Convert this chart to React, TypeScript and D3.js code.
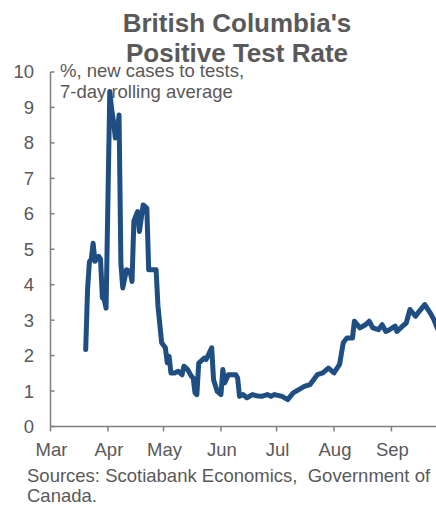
import React from "react";
import * as d3 from "d3";

// 7-day rolling positive test rate, British Columbia (% of tests)
const dates: string[] = [
  "2020-03-20", "2020-03-21", "2020-03-22", "2020-03-23", "2020-03-24", "2020-03-25",
  "2020-03-27", "2020-03-28", "2020-03-29", "2020-03-30", "2020-03-31",
  "2020-04-02", "2020-04-03", "2020-04-04", "2020-04-05", "2020-04-06", "2020-04-07",
  "2020-04-08", "2020-04-09", "2020-04-11", "2020-04-13", "2020-04-14", "2020-04-15",
  "2020-04-17", "2020-04-18", "2020-04-20", "2020-04-22", "2020-04-23", "2020-04-25",
  "2020-04-27", "2020-04-28", "2020-04-30", "2020-05-02", "2020-05-03", "2020-05-04",
  "2020-05-05", "2020-05-07", "2020-05-09", "2020-05-11", "2020-05-12", "2020-05-14",
  "2020-05-16", "2020-05-17", "2020-05-18", "2020-05-19", "2020-05-20", "2020-05-23",
  "2020-05-24", "2020-05-27", "2020-05-28", "2020-05-30", "2020-06-01", "2020-06-02",
  "2020-06-03", "2020-06-05", "2020-06-09", "2020-06-10", "2020-06-11", "2020-06-13",
  "2020-06-15", "2020-06-18", "2020-06-20", "2020-06-23", "2020-06-26", "2020-06-28",
  "2020-06-30", "2020-07-04", "2020-07-07", "2020-07-10", "2020-07-13", "2020-07-16",
  "2020-07-19", "2020-07-23", "2020-07-26", "2020-07-29", "2020-08-01", "2020-08-04",
  "2020-08-06", "2020-08-08", "2020-08-11", "2020-08-12", "2020-08-15", "2020-08-18",
  "2020-08-20", "2020-08-22", "2020-08-25", "2020-08-27", "2020-08-29", "2020-08-31",
  "2020-09-03", "2020-09-04", "2020-09-07", "2020-09-09", "2020-09-11", "2020-09-14",
  "2020-09-16", "2020-09-19", "2020-09-22", "2020-09-24", "2020-09-25", "2020-09-26",
];

const rates: number[] = [
  2.17, 3.86, 4.65, 4.72, 5.17, 4.66,
  4.8, 4.72, 3.63, 3.58, 3.34,
  9.45, 8.95, 8.6, 8.14, 8.2, 8.79,
  4.6, 3.91, 4.42, 4.37, 4.09, 5.8,
  6.06, 5.5, 6.25, 6.16, 4.42, 4.42,
  4.42, 3.4, 2.36, 2.22, 1.8, 1.98,
  1.51, 1.51, 1.56, 1.46, 1.7, 1.61,
  1.42, 1.37, 0.95, 0.9, 1.79, 1.93,
  1.89, 2.22, 1.32, 0.99, 0.9, 1.61,
  1.23, 1.46, 1.46, 1.37, 0.85, 0.9,
  0.81, 0.9, 0.87, 0.85, 0.9, 0.85,
  0.9, 0.85, 0.76, 0.95, 1.04, 1.13,
  1.18, 1.46, 1.51, 1.65, 1.51, 1.75,
  2.36, 2.5, 2.5, 2.97, 2.78, 2.87,
  2.97, 2.78, 2.73, 2.87, 2.68, 2.73,
  2.83, 2.68, 2.83, 2.92, 3.3, 3.11,
  3.25, 3.44, 3.2, 3.01, 2.87, 2.75,
];

const monthTicks: string[] = [
  "2020-03-01", "2020-04-01", "2020-05-01", "2020-06-01",
  "2020-07-01", "2020-08-01", "2020-09-01",
];
const monthLabels: string[] = ["Mar", "Apr", "May", "Jun", "Jul", "Aug", "Sep"];
const yTicks: number[] = [0, 1, 2, 3, 4, 5, 6, 7, 8, 9, 10];

const titleLines: string[] = ["British Columbia's", "Positive Test Rate"];
const unitLines: string[] = ["%, new cases to tests,", "7-day rolling average"];
const sourceLines: string[] = ["Sources: Scotiabank Economics,  Government of", "Canada."];

const W = 436;
const H = 508;
const FONT = "'Liberation Sans', Arial, Helvetica, sans-serif";
const TEXT = "#595959";
const AXIS = "#7f7f7f";
const LINE = "#1f4e82";

export default function App() {
  const parse = d3.timeParse("%Y-%m-%d");
  const x = d3
    .scaleTime()
    .domain([parse("2020-03-01")!, parse("2020-10-01")!])
    .range([50.5, 447]);
  const y = d3.scaleLinear().domain([0, 10]).range([426.5, 72]);

  const points = dates.map((d, i) => ({ date: parse(d)!, v: rates[i] }));
  const path = d3
    .line<{ date: Date; v: number }>()
    .x((p) => x(p.date))
    .y((p) => y(p.v))(points);

  const x0 = x.range()[0];
  const yBase = y(0);

  return (
    <svg
      width={W}
      height={H}
      style={{ position: "absolute", left: 0, top: 0, background: "#fff" }}
      fontFamily={FONT}
    >
      {titleLines.map((t, i) => (
        <text
          key={t}
          x={237}
          y={32 + i * 30}
          textAnchor="middle"
          fontSize={26}
          fontWeight="bold"
          fill={TEXT}
        >
          {t}
        </text>
      ))}

      {/* y axis */}
      <line x1={x0} x2={x0} y1={y(10)} y2={yBase} stroke={AXIS} strokeWidth={1.5} />
      {yTicks.map((t) => (
        <g key={t}>
          <line x1={x0} x2={x0 + 4} y1={y(t)} y2={y(t)} stroke={AXIS} strokeWidth={1.5} />
          <text
            x={34}
            y={y(t)}
            dy="0.35em"
            textAnchor="end"
            fontSize={18.5}
            fill={TEXT}
          >
            {t}
          </text>
        </g>
      ))}

      {/* x axis */}
      <line x1={x0} x2={W} y1={yBase} y2={yBase} stroke={AXIS} strokeWidth={1.5} />
      {monthTicks.map((m, i) => {
        const px = x(parse(m)!);
        return (
          <g key={m}>
            <line x1={px} x2={px} y1={yBase} y2={yBase + 5} stroke={AXIS} strokeWidth={1.5} />
            <text x={px + 1} y={456} textAnchor="middle" fontSize={18.5} fill={TEXT}>
              {monthLabels[i]}
            </text>
          </g>
        );
      })}

      {unitLines.map((t, i) => (
        <text key={t} x={60} y={77 + i * 21} fontSize={18.5} fill={TEXT}>
          {t}
        </text>
      ))}

      <path
        d={path ?? ""}
        fill="none"
        stroke={LINE}
        strokeWidth={5}
        strokeLinejoin="round"
        strokeLinecap="round"
      />

      {sourceLines.map((t, i) => (
        <text
          key={t}
          x={27}
          y={482 + i * 20}
          fontSize={18.5}
          fill={TEXT}
          style={{ whiteSpace: "pre" }}
        >
          {t}
        </text>
      ))}
    </svg>
  );
}
